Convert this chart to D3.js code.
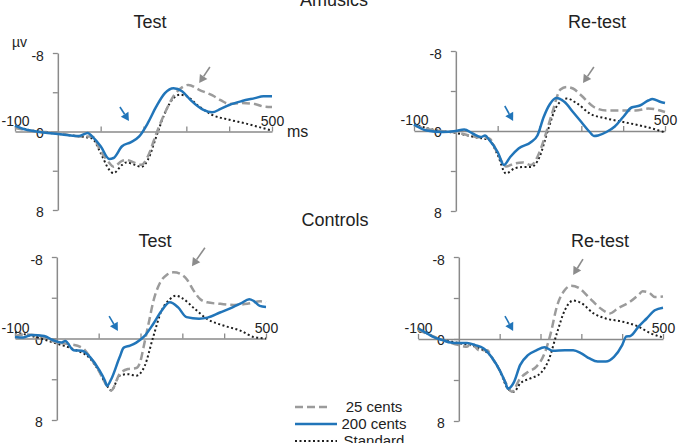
<!DOCTYPE html>
<html><head><meta charset="utf-8">
<script src="https://cdn.jsdelivr.net/npm/d3@7"></script>
<style>
body{margin:0;background:#fff}
svg text{font-family:"Liberation Sans",Arial,sans-serif;fill:#222}
</style>
</head><body>
<svg id="chart" width="681" height="443"></svg>
<script>
// ---------- data (time in ms, amplitude in µV; negative plotted up) ----------
const groups = ["Amusics", "Controls"];
const sessions = ["Test", "Re-test"];
const legendLabels = ["25 cents", "200 cents", "Standard"];
const yTicks = [-8, -4, 0, 4, 8];
const yTickLabels = [-8, 0, 8];
const xTicks = [-100, 0, 100, 200, 300, 400, 500];
const xTickLabels = [-100, 500];

const amTest25 = [[-100,-0.35],[-60,-0.05],[0,0.15],[50,0.5],[80,0.5],[100,2.0],[120,3.2],[130,3.6],[150,3.0],[160,2.9],[180,3.2],[195,3.4],[210,2.55],[230,0.2],[250,-1.9],[270,-3.6],[290,-4.5],[305,-4.75],[330,-4.25],[360,-3.7],[380,-3.2],[400,-2.8],[430,-2.9],[460,-2.8],[480,-2.55],[500,-2.5]];
const amTest200 = [[-100,-0.6],[-80,-0.25],[-50,0],[0,0.25],[50,0.45],[70,0.15],[80,0.5],[100,1.5],[120,2.8],[130,2.7],[150,1.5],[170,1.1],[190,0.5],[210,-0.85],[230,-2.55],[250,-3.9],[270,-4.4],[290,-4.1],[310,-3.2],[340,-2.2],[360,-1.95],[380,-2.3],[400,-2.7],[430,-3.1],[460,-3.4],[480,-3.6],[500,-3.6]];
const amTestStd = [[-100,-0.5],[-60,-0.1],[-20,0.15],[0,0.25],[50,0.5],[80,0.7],[100,2.2],[120,3.9],[130,4.25],[150,3.4],[160,3.15],[180,3.4],[195,3.6],[210,2.9],[230,0.5],[250,-1.9],[270,-3.4],[285,-3.75],[300,-3.6],[330,-2.55],[360,-1.7],[400,-1.2],[440,-0.8],[470,-0.45],[500,-0.1]];

const amRetest25 = [[-100,-0.55],[-50,-0.05],[0,0.15],[50,0.6],[80,0.75],[100,2.25],[120,3.55],[140,3.25],[160,3.15],[180,3.4],[195,2.6],[210,0.95],[230,-1.75],[250,-4.15],[265,-4.4],[280,-4.25],[300,-3.55],[330,-2.4],[360,-2.05],[400,-2.05],[430,-2.05],[460,-2.25],[500,-1.9]];
const amRetest200 = [[-100,-0.65],[-70,-0.05],[-30,0.1],[0,0],[20,-0.15],[40,0.25],[60,0.6],[70,0.45],[80,0.9],[100,2.1],[115,3.4],[130,2.6],[150,1.75],[180,1.1],[195,0.45],[210,-1.4],[225,-2.7],[240,-3.3],[260,-2.9],[280,-1.9],[300,-0.9],[320,0.1],[330,0.5],[340,0.45],[360,0.1],[380,-0.45],[400,-1.4],[420,-2.35],[440,-2.55],[460,-3.05],[470,-3.2],[490,-2.9],[500,-2.8]];
const amRetestStd = [[-100,-0.65],[-50,-0.1],[0,0.2],[50,0.65],[80,0.9],[100,2.4],[120,4.25],[140,3.75],[160,3.6],[180,3.6],[200,2.6],[220,-0.05],[240,-2.4],[265,-3.25],[290,-2.75],[320,-1.75],[360,-1.25],[400,-0.9],[440,-0.55],[470,-0.25],[500,0.15]];

const ctTest25 = [[-100,-0.25],[-80,-0.4],[-40,-0.25],[0,0.4],[30,0.55],[60,0.9],[80,1.85],[100,3.15],[120,4.65],[130,5.1],[150,3.5],[170,3.0],[190,2.9],[200,2.2],[207,0.9],[219,-1.4],[231,-3.7],[247,-5.5],[263,-6.25],[279,-6.5],[295,-6.35],[311,-5.8],[327,-4.7],[343,-3.85],[359,-3.55],[391,-3.4],[423,-3.3],[455,-3.4],[486,-3.65],[500,-3.55]];
const ctTest200 = [[-100,-0.15],[-80,-0.1],[-60,-0.35],[-30,-0.25],[-10,0.15],[10,0.4],[20,0.25],[40,1.15],[60,1.2],[80,1.85],[100,3.0],[115,4.15],[120,4.65],[130,4.0],[150,1.85],[160,0.9],[175,0.7],[190,0.4],[210,-0.25],[230,-1.4],[250,-2.7],[270,-3.55],[290,-3.05],[310,-2.1],[340,-1.95],[360,-2.05],[390,-2.55],[420,-3.05],[440,-3.45],[460,-3.85],[470,-3.7],[485,-3.2],[500,-3.1]];
const ctTestStd = [[-100,-0.6],[-60,-0.25],[0,0.5],[40,1.05],[80,2.0],[100,3.15],[120,4.65],[130,5.1],[150,3.65],[170,3.5],[190,3.65],[210,2.7],[230,-0.1],[250,-2.7],[270,-3.85],[285,-4.2],[300,-3.95],[330,-2.9],[360,-1.9],[400,-1.25],[440,-0.75],[470,-0.15],[500,0]];

const ctRetest25 = [[-100,-0.9],[-50,-0.05],[0,0.6],[20,0.75],[30,0.4],[50,1.1],[70,1.1],[80,1.75],[100,3.05],[120,4.65],[130,5.15],[150,3.85],[170,3.2],[190,2.7],[210,1.4],[225,-0.55],[240,-3.15],[260,-4.8],[275,-5.2],[295,-4.95],[320,-4.0],[350,-2.9],[370,-2.5],[390,-3.0],[420,-3.65],[440,-4.3],[450,-4.65],[465,-4.55],[480,-4.1],[500,-4.15]];
const ctRetest200 = [[-100,-1.05],[-80,-0.6],[-60,-0.15],[-40,0.1],[-20,0.35],[0,0.4],[20,0.4],[40,0.6],[60,0.9],[80,1.75],[100,3.05],[115,4.35],[120,4.85],[135,4.2],[150,2.55],[170,1.55],[190,1.1],[210,0.8],[230,1.15],[260,1.1],[280,1.1],[300,1.4],[320,1.9],[340,2.2],[360,2.2],[380,1.75],[400,0.6],[410,-0.25],[420,-0.3],[440,-1.2],[460,-2.0],[480,-2.8],[500,-3.05]];
const ctRetestStd = [[-100,-1.05],[-50,-0.05],[0,0.4],[40,0.75],[80,1.75],[100,3.05],[120,4.85],[135,5.15],[150,4.35],[175,3.85],[200,3.35],[220,2.05],[240,-0.55],[260,-2.85],[280,-3.75],[300,-3.5],[330,-2.5],[360,-2.0],[400,-1.7],[440,-1.2],[470,-0.55],[500,-0.15]];

// annotation arrows [t1, v1, t2, v2, kind]
const amTestArrows = [[145,-2.5,166,-1.07,"blue"],[355,-6.57,330,-4.94,"gray"]];
const amRetestArrows = [[117,-2.5,137,-1.0,"blue"],[330,-6.4,304,-4.8,"gray"]];
const ctTestArrows = [[125,-2.2,146,-0.74,"blue"],[354,-8.9,323,-7.1,"gray"]];
const ctRetestArrows = [[113,-2.24,133,-0.78,"blue"],[304,-7.8,280,-6.24,"gray"]];

// ---------- layout & style ----------
const BLUE = "#2175b9", GRAY = "#9b9b9b", DARK = "#1e1e1e", AXIS = "#8a8a8a";
const panels = [
  {title: sessions[0], s25: amTest25, s200: amTest200, std: amTestStd, arrows: amTestArrows, xr: [15, 272], yr: [53, 210], tx: 150, ty: 28, units: true},
  {title: sessions[1], s25: amRetest25, s200: amRetest200, std: amRetestStd, arrows: amRetestArrows, xr: [414, 665], yr: [51, 211], tx: 597, ty: 28},
  {title: sessions[0], s25: ctTest25, s200: ctTest200, std: ctTestStd, arrows: ctTestArrows, xr: [15, 266], yr: [257, 420], tx: 155, ty: 247},
  {title: sessions[1], s25: ctRetest25, s200: ctRetest200, std: ctRetestStd, arrows: ctRetestArrows, xr: [418, 663], yr: [257, 421], tx: 600, ty: 247}
];

const svg = d3.select("#chart");

// group titles
svg.append("text").attr("x", 334).attr("y", 6).attr("text-anchor", "middle").style("font-size", "18px").text(groups[0]);
svg.append("text").attr("x", 335).attr("y", 226).attr("text-anchor", "middle").style("font-size", "18px").text(groups[1]);

panels.forEach(p => {
  const x = d3.scaleLinear().domain([-100, 500]).range(p.xr);
  const y = d3.scaleLinear().domain([-8, 8]).range(p.yr);
  const g = svg.append("g");

  g.append("text").attr("x", p.tx).attr("y", p.ty).attr("text-anchor", "middle").style("font-size", "18px").text(p.title);

  // y axis
  const ya = g.append("g").attr("transform", `translate(${x(0)},0)`)
    .call(d3.axisLeft(y).tickValues(yTicks).tickSize(5).tickSizeOuter(0).tickPadding(9)
      .tickFormat(d => yTickLabels.includes(d) ? String(d) : ""));
  // x axis through zero
  const xa = g.append("g").attr("transform", `translate(0,${y(0)})`)
    .call(d3.axisTop(x).tickValues(xTicks).tickSize(5).tickSizeOuter(0).tickPadding(1)
      .tickFormat(d => xTickLabels.includes(d) ? String(d) : ""));
  [ya, xa].forEach(a => {
    a.select(".domain").attr("stroke", AXIS).attr("stroke-width", 1.5);
    a.selectAll(".tick line").attr("stroke", AXIS).attr("stroke-width", 1.3);
    a.selectAll(".tick text").style("font-size", "14px").style("font-family", '"Liberation Sans",Arial,sans-serif').attr("fill", "#222");
  });
  xa.selectAll(".tick").filter(d => d === 0).select("line").remove();
  ya.selectAll(".tick").filter(d => d === 0).select("text").attr("dy", "0.4em");
  ya.selectAll(".tick").filter(d => d === -8).select("text").attr("dy", "0.55em");
  ya.selectAll(".tick").filter(d => d === 8).select("text").attr("dy", "0.45em");

  if (p.units) {
    g.append("text").attr("x", 12).attr("y", y(-8) - 6).style("font-size", "14px").text("µv");
    g.append("text").attr("x", x(500) + 15).attr("y", y(0) + 5).style("font-size", "16px").text("ms");
  }

  const line = d3.line().x(d => x(d[0])).y(d => y(d[1])).curve(d3.curveMonotoneX);
  g.append("path").attr("d", line(p.std)).attr("fill", "none").attr("stroke", DARK).attr("stroke-width", 2).attr("stroke-dasharray", "2,2.5");
  g.append("path").attr("d", line(p.s25)).attr("fill", "none").attr("stroke", GRAY).attr("stroke-width", 2.5).attr("stroke-dasharray", "8,4");
  g.append("path").attr("d", line(p.s200)).attr("fill", "none").attr("stroke", BLUE).attr("stroke-width", 2.5);

  // arrows
  p.arrows.forEach(a => {
    const x1 = x(a[0]), y1 = y(a[1]), x2 = x(a[2]), y2 = y(a[3]);
    const col = a[4] === "blue" ? BLUE : "#8c8c8c";
    const ang = Math.atan2(y2 - y1, x2 - x1), hl = 8, hw = 4.5;
    const bx = x2 - hl * Math.cos(ang), by = y2 - hl * Math.sin(ang);
    g.append("line").attr("x1", x1).attr("y1", y1).attr("x2", bx).attr("y2", by).attr("stroke", col).attr("stroke-width", 1.6);
    const pts = [[x2, y2], [bx + hw * Math.sin(ang), by - hw * Math.cos(ang)], [bx - hw * Math.sin(ang), by + hw * Math.cos(ang)]];
    g.append("polygon").attr("points", pts.map(q => q.join(",")).join(" ")).attr("fill", col);
  });
});

// legend
const legend = svg.append("g");
const legStyles = [
  {stroke: GRAY, w: 2.5, dash: "8,4", len: 36},
  {stroke: BLUE, w: 2.5, dash: null, len: 42},
  {stroke: DARK, w: 2, dash: "2,2.5", len: 42}
];
legendLabels.forEach((lab, i) => {
  const yy = 407 + i * 17;
  const st = legStyles[i];
  legend.append("line").attr("x1", 295).attr("x2", 295 + st.len).attr("y1", yy).attr("y2", yy)
    .attr("stroke", st.stroke).attr("stroke-width", st.w).attr("stroke-dasharray", st.dash);
  legend.append("text").attr("x", 374).attr("y", yy + 5).attr("text-anchor", "middle").style("font-size", "15px").text(lab);
});
</script>
</body></html>
